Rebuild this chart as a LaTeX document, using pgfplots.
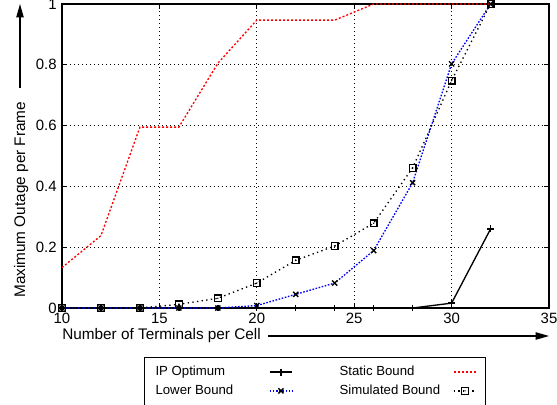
\documentclass[border=0pt]{standalone}
\usepackage{fontspec}
\setmainfont{Liberation Sans}
\usepackage{pgfplots}
\pgfplotsset{compat=1.18}
\usetikzlibrary{arrows.meta}

\pgfdeclareplotmark{sqdot}{%
 \pgfpathrectangle{\pgfpoint{-\pgfplotmarksize}{-\pgfplotmarksize}}{\pgfpoint{2\pgfplotmarksize}{2\pgfplotmarksize}}%
 \pgfusepathqstroke
 \pgfpathcircle{\pgfpointorigin}{0.6pt}\pgfusepathqfill}

\begin{document}
\fontsize{11.5}{13.5}\selectfont
\begin{tikzpicture}
\begin{axis}[
 scale only axis, width=365.25pt, height=228pt,
 xmin=10, xmax=35, ymin=0, ymax=1,
 xtick={10,15,20,25,30,35}, ytick={0,0.2,0.4,0.6,0.8,1},
 grid=major,
 grid style={black, line width=0.5pt, dash pattern=on 0.75pt off 2.25pt},
 axis line style={line width=1.2pt},
 tick style={black, line width=0.8pt}, tick align=inside, major tick length=4pt,
 /pgf/number format/assume math mode=true,
 ticklabel style={font=\fontsize{11.2}{13}\selectfont},
 clip=false,
 legend columns=2, legend plot pos=right,
 legend style={at={(axis description cs:0.5195,-0.161)}, anchor=north,
   draw=black, line width=0.8pt, font=\fontsize{9.9}{11}\selectfont,
   column sep=3pt, inner xsep=6pt, inner ysep=4.5pt, row sep=1.2pt},
]
\addplot[black, line width=1pt, mark=+, mark size=2.6pt] coordinates {
(10,0)(12,0)(14,0)(16,0)(18,0)(20,0)(22,0)(24,0)(26,0)(28,0)(30,0.016)(32,0.26)};
\addlegendentry{\makebox[80pt][l]{IP Optimum}}
\addplot[red, line width=1pt, dash pattern=on 1.5pt off 1.5pt] coordinates {
(10,0.133)(12,0.238)(14,0.595)(16,0.595)(18,0.805)(20,0.947)(22,0.947)(24,0.947)(26,1)(28,1)(30,1)(32,1)};
\addlegendentry{\hspace*{30pt}\makebox[80pt][l]{Static Bound}}
\addplot[blue, line width=1pt, dash pattern=on 1.2pt off 1.2pt, mark=x, mark size=2.7pt, mark options={solid, black}] coordinates {
(10,0)(12,0)(14,0)(16,0)(18,0)(20,0.008)(22,0.045)(24,0.082)(26,0.189)(28,0.412)(30,0.803)(32,1)};
\addlegendentry{\makebox[80pt][l]{Lower Bound}}
\addplot[black, line width=1pt, dash pattern=on 1pt off 2.5pt, mark=sqdot, mark size=2.5pt, mark options={solid}] coordinates {
(10,0)(12,0)(14,0)(16,0.012)(18,0.032)(20,0.082)(22,0.157)(24,0.204)(26,0.279)(28,0.461)(30,0.748)(32,1)};
\addlegendentry{\hspace*{30pt}\makebox[80pt][l]{Simulated Bound}}
\end{axis}
\node[anchor=base west, inner sep=0] at (0,-23.25pt) {Number of Terminals per Cell};
\draw[-{Triangle[length=10pt,width=5.5pt]}, line width=0.8pt] (154.5pt,-21pt) -- (365.25pt,-21pt);
\node[rotate=90, anchor=base west, inner sep=0] at (-27.75pt,7.5pt) {Maximum Outage per Frame};
\draw[-{Triangle[length=10pt,width=5.5pt]}, line width=0.8pt] (-31.5pt,165pt) -- (-31.5pt,228pt);
\pgfresetboundingbox
\useasboundingbox (-46.5pt,-72pt) rectangle (371.25pt,231pt);
\end{tikzpicture}
\end{document}
